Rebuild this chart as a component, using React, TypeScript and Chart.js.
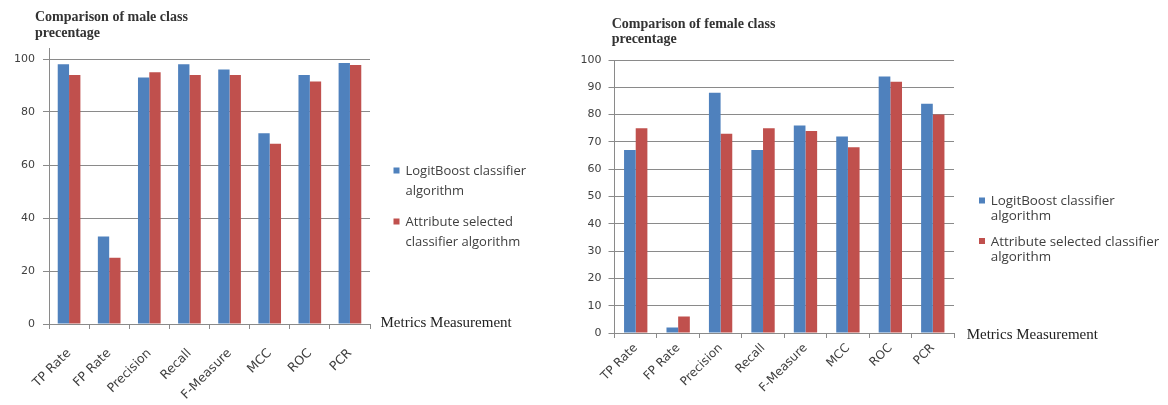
import React, { useEffect, useRef } from "react";
import { Chart, registerables } from "chart.js";

Chart.register(...registerables);

// Metrics on the category axis
const metrics = ["TP Rate", "FP Rate", "Precision", "Recall", "F-Measure", "MCC", "ROC", "PCR"];

// Series names
const seriesA = "LogitBoost classifier algorithm";
const seriesB = "Attribute selected classifier algorithm";

// Male class percentages
const maleLogitBoost = [98, 33, 93, 98, 96, 72, 94, 98.5];
const maleAttrSelected = [94, 25, 95, 94, 94, 68, 91.5, 97.7];

// Female class percentages
const femaleLogitBoost = [67, 2, 88, 67, 76, 72, 94, 84];
const femaleAttrSelected = [75, 6, 73, 75, 74, 68, 92, 80];

// Y tick settings
const maleTickStep = 20;
const femaleTickStep = 10;
const yMax = 100;

// Titles and captions
const maleTitle = ["Comparison of male class", "precentage"];
const femaleTitle = ["Comparison of female class", "precentage"];
const xCaption = "Metrics Measurement";

// Legend line wrapping for each chart
const maleLegendLines = [["LogitBoost classifier", "algorithm"], ["Attribute selected", "classifier algorithm"]];
const femaleLegendLines = [["LogitBoost classifier", "algorithm"], ["Attribute selected classifier", "algorithm"]];

const BLUE = "#4F81BD";
const RED = "#C0504D";
const GRID = "#8A8A8A";
const TEXT = "#404040";

type Layout = {
  canvasLeft: number;
  canvasWidth: number;
  areaLeft: number;
  areaRight: number;
  areaTop: number;
  areaBottom: number;
  axisTop: number;
  catPct: number;
  yLabelPad: number;
  xLabelPad: number;
  xLabelSize: number;
  titleX: number;
  titleY: number;
  titleLH: number;
  legendBoxX: number;
  legendY: number[];
  legendTextX: number;
  legendLH: number;
  legendFont: string;
  captionX: number;
  captionY: number;
};

function makeDecor(title: string[], legendLines: string[][], L: Layout) {
  return {
    id: "decor",
    afterDraw(chart: any) {
      const ctx: CanvasRenderingContext2D = chart.ctx;
      const area = chart.chartArea;
      ctx.save();
      // value axis line runs a little above the top gridline
      if (L.axisTop < area.top) {
        ctx.strokeStyle = GRID;
        ctx.lineWidth = 1;
        const x = Math.round(area.left) + 0.5;
        ctx.beginPath();
        ctx.moveTo(x, L.axisTop);
        ctx.lineTo(x, area.top);
        ctx.stroke();
      }
      // chart title
      ctx.fillStyle = "#333333";
      ctx.font = "bold 14px 'Liberation Serif', serif";
      ctx.textAlign = "left";
      ctx.textBaseline = "alphabetic";
      title.forEach((line, i) => ctx.fillText(line, L.titleX, L.titleY + i * L.titleLH));
      // legend
      chart.data.datasets.forEach((ds: any, i: number) => {
        const y = L.legendY[i];
        ctx.fillStyle = ds.backgroundColor;
        ctx.fillRect(L.legendBoxX, y - 3, 6, 6);
        ctx.fillStyle = TEXT;
        ctx.font = L.legendFont;
        ctx.textBaseline = "middle";
        legendLines[i].forEach((line, j) => ctx.fillText(line, L.legendTextX, y + 1 + j * L.legendLH));
      });
      // category axis caption
      ctx.fillStyle = "#222222";
      ctx.font = "15px 'Liberation Serif', serif";
      ctx.textBaseline = "middle";
      ctx.fillText(xCaption, L.captionX, L.captionY);
      ctx.restore();
    },
  };
}

function BarPanel(props: {
  a: number[];
  b: number[];
  step: number;
  title: string[];
  legendLines: string[][];
  L: Layout;
}) {
  const ref = useRef<HTMLCanvasElement | null>(null);
  const { a, b, step, title, legendLines, L } = props;

  useEffect(() => {
    if (!ref.current) return;
    const chart = new Chart(ref.current, {
      type: "bar",
      data: {
        labels: metrics,
        datasets: [
          { label: seriesA, data: a, backgroundColor: BLUE, borderWidth: 0 },
          { label: seriesB, data: b, backgroundColor: RED, borderWidth: 0 },
        ],
      },
      options: {
        responsive: false,
        animation: false,
        devicePixelRatio: 1,
        layout: {
          padding: {
            left: 0,
            top: L.areaTop,
            right: L.canvasWidth - L.areaRight,
            bottom: 0,
          },
        },
        datasets: {
          bar: { categoryPercentage: L.catPct, barPercentage: 1 },
        },
        plugins: {
          legend: { display: false },
          title: { display: false },
          tooltip: { enabled: false },
        },
        scales: {
          x: {
            grid: {
              display: true,
              drawOnChartArea: false,
              drawTicks: true,
              tickLength: 5,
              color: GRID,
              offset: true,
            },
            border: { display: true, color: GRID, width: 1 },
            ticks: {
              color: TEXT,
              font: { family: "'DejaVu Sans', sans-serif", size: L.xLabelSize },
              minRotation: 45,
              maxRotation: 45,
              autoSkip: false,
              padding: L.xLabelPad,
            },
            afterFit: (s: any) => {
              s.height = 405 - L.areaBottom;
            },
          },
          y: {
            min: 0,
            max: yMax,
            ticks: {
              stepSize: step,
              color: TEXT,
              font: { family: "'DejaVu Sans', sans-serif", size: 11 },
              padding: L.yLabelPad,
            },
            grid: {
              color: GRID,
              tickLength: 6,
              drawTicks: true,
            },
            border: { display: true, color: GRID, width: 1 },
            afterFit: (s: any) => {
              s.width = L.areaLeft;
            },
          },
        },
      },
      plugins: [makeDecor(title, legendLines, L)],
    });
    return () => chart.destroy();
  }, [a, b, step, title, legendLines, L]);

  return (
    <canvas
      ref={ref}
      width={L.canvasWidth}
      height={405}
      style={{ position: "absolute", left: L.canvasLeft, top: 0, width: L.canvasWidth, height: 405 }}
    />
  );
}

const maleLayout: Layout = {
  canvasLeft: 0,
  canvasWidth: 575,
  areaLeft: 49,
  areaRight: 370,
  areaTop: 59,
  areaBottom: 324,
  axisTop: 48,
  catPct: 0.565,
  yLabelPad: 8,
  xLabelPad: 17,
  xLabelSize: 12.5,
  titleX: 35,
  titleY: 20.7,
  titleLH: 16,
  legendBoxX: 393.5,
  legendY: [170.5, 221.5],
  legendTextX: 405.5,
  legendLH: 20,
  legendFont: "13px 'Open Sans', sans-serif",
  captionX: 380.5,
  captionY: 323,
};

const femaleLayout: Layout = {
  canvasLeft: 575,
  canvasWidth: 593,
  areaLeft: 39.5,
  areaRight: 379,
  areaTop: 60,
  areaBottom: 333,
  axisTop: 60,
  catPct: 0.55,
  yLabelPad: 7,
  xLabelPad: 3,
  xLabelSize: 12,
  titleX: 36.7,
  titleY: 28.3,
  titleLH: 15,
  legendBoxX: 404,
  legendY: [200.5, 241],
  legendTextX: 415.7,
  legendLH: 15,
  legendFont: "13.4px 'Open Sans', sans-serif",
  captionX: 391.7,
  captionY: 335,
};

export default function App() {
  return (
    <div style={{ position: "absolute", left: 0, top: 0, width: 1168, height: 405, background: "#ffffff", overflow: "hidden" }}>
      <BarPanel a={maleLogitBoost} b={maleAttrSelected} step={maleTickStep} title={maleTitle} legendLines={maleLegendLines} L={maleLayout} />
      <BarPanel a={femaleLogitBoost} b={femaleAttrSelected} step={femaleTickStep} title={femaleTitle} legendLines={femaleLegendLines} L={femaleLayout} />
    </div>
  );
}
